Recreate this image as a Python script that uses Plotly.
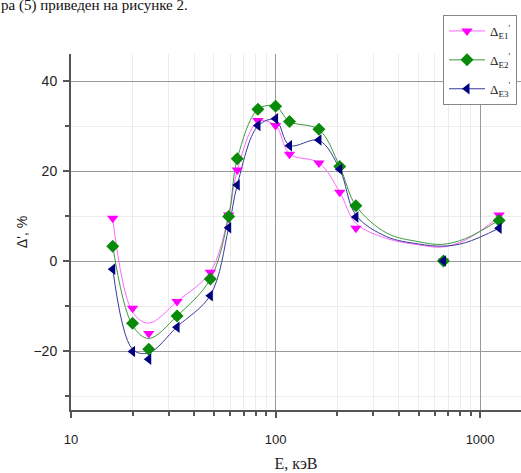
import plotly.graph_objects as go

# measured points
energy = [16, 20, 24, 33, 48, 59, 65, 82, 100, 117, 163, 206, 247, 662, 1239]
d_e1 = [9.5, -10.5, -16.1, -9.0, -2.5, 10.2, 20.2, 31.2, 30.1, 23.7, 21.8, 15.3, 7.3, 0.0, 10.2]
d_e2 = [3.3, -13.8, -19.6, -12.2, -4.0, 9.9, 22.7, 33.7, 34.4, 31.0, 29.3, 21.0, 12.3, 0.0, 9.0]
d_e3 = [-1.8, -20.1, -21.8, -14.7, -7.7, 7.4, 16.9, 30.1, 31.6, 25.6, 26.9, 20.4, 9.8, 0.0, 7.3]

# smoothing curves
fit_energy = [16, 20, 24, 33, 48, 59, 65, 82, 100, 117, 163, 206, 247, 350, 500, 650, 850, 1239]
fit_e1 = [9.5, -11.3, -13.8, -9.0, -2.4, 10.2, 20.2, 31.0, 30.1, 23.8, 21.8, 15.3, 8.4, 5.0, 3.6, 3.1, 4.7, 9.8]
fit_e2 = [3.3, -14.3, -17.2, -12.2, -4.0, 9.9, 22.7, 33.7, 34.4, 31.0, 29.2, 21.0, 12.3, 6.2, 4.3, 3.7, 5.0, 9.1]
fit_e3 = [-1.7, -19.6, -20.4, -14.6, -7.6, 7.4, 16.9, 30.0, 31.4, 25.7, 26.8, 20.4, 10.2, 5.4, 3.8, 3.3, 4.1, 7.3]

names = ["Δ<sub>E1</sub><sup>'</sup>", "Δ<sub>E2</sub><sup>'</sup>", "Δ<sub>E3</sub><sup>'</sup>"]
x_ticks = [10, 100, 1000]
x_minor = [20, 30, 40, 50, 60, 70, 80, 90, 200, 300, 400, 500, 600, 700, 800, 900]
y_ticks = [-20, 0, 20, 40]
y_minor = [-30, -10, 10, 30]

series = [
    (d_e1, fit_e1, "#ff00ff", "#ff66ff", "triangle-down"),
    (d_e2, fit_e2, "#0a8a0a", "#3c9a3c", "diamond"),
    (d_e3, fit_e3, "#000080", "#3a3a9a", "triangle-left"),
]

fig = go.Figure()
for (pts, fit, mcol, lcol, sym), nm in zip(series, names):
    fig.add_trace(go.Scatter(x=fit_energy, y=fit, mode="lines",
                             line=dict(color=lcol, width=1, shape="spline", smoothing=1.0),
                             showlegend=False, hoverinfo="skip"))
for (pts, fit, mcol, lcol, sym), nm in zip(series, names):
    fig.add_trace(go.Scatter(x=energy, y=pts, mode="markers",
                             marker=dict(symbol=sym, color=mcol, size=10, line=dict(width=0)),
                             showlegend=False))
for i, ((pts, fit, mcol, lcol, sym), nm) in enumerate(zip(series, names)):
    fig.add_trace(go.Scatter(x=[None], y=[None], mode="lines+markers", name=nm,
                             legendgroup="g%d" % i,
                             line=dict(color=lcol, width=1),
                             marker=dict(symbol=sym, color=mcol, size=10)))

W, H = 521, 473
ml, mr, mt, mb = 71, 0, 54, 63
pw, ph = W - ml - mr, H - mt - mb

def px_x(p):
    return (p - ml) / pw

def px_y(p):
    return (H - mb - p) / ph

fig.update_layout(
    width=W, height=H,
    margin=dict(l=ml, r=mr, t=mt, b=mb, pad=0),
    paper_bgcolor="white", plot_bgcolor="white",
    font=dict(family="Liberation Sans, Arial", size=13, color="#222"),
    xaxis=dict(type="log", range=[1, 3.2], tickmode="array", tickvals=x_ticks,
               ticktext=[str(v) for v in x_ticks], ticks="outside", ticklen=6, tickwidth=1.5,
               tickcolor="#555", showline=True, linecolor="#555", linewidth=2,
               showgrid=True, gridcolor="#9a9a9a", gridwidth=1, zeroline=False,
               ticklabelstandoff=10,
               minor=dict(tickmode="array", tickvals=x_minor, ticks="outside", ticklen=4,
                          tickcolor="#555", showgrid=True, gridcolor="#ececec", gridwidth=1),
               title=dict(text="Е, кэВ", font=dict(family="Liberation Serif", size=16, color="#222"),
                          standoff=12)),
    yaxis=dict(range=[-33.1, 46], tickmode="array", tickvals=y_ticks, ticks="outside",
               ticklen=6, tickwidth=1.5, tickcolor="#555", showline=True, linecolor="#555",
               linewidth=2, showgrid=True, gridcolor="#9a9a9a", gridwidth=1, zeroline=False,
               tickfont=dict(size=14), ticklabelstandoff=3,
               minor=dict(tickmode="array", tickvals=y_minor, ticks="outside", ticklen=4,
                          tickcolor="#555", showgrid=True, gridcolor="#ececec", gridwidth=1),
               title=dict(text="Δ', %", font=dict(size=14, color="#222"), standoff=3)),
    legend=dict(x=px_x(443), y=px_y(15), xanchor="left", yanchor="top",
                bgcolor="white", bordercolor="#888", borderwidth=1,
                font=dict(family="Liberation Serif", size=13, color="#222"),
                itemwidth=36, tracegroupgap=9),
    annotations=[dict(text="ра (5) приведен на рисунке 2.", xref="paper", yref="paper",
                      x=px_x(-1), y=px_y(5), xanchor="left", yanchor="middle", showarrow=False,
                      font=dict(family="Liberation Serif", size=15, color="#111"))],
)

fig.write_html("out.html", config={"displayModeBar": False},
               post_script="document.body.style.margin='0';")
